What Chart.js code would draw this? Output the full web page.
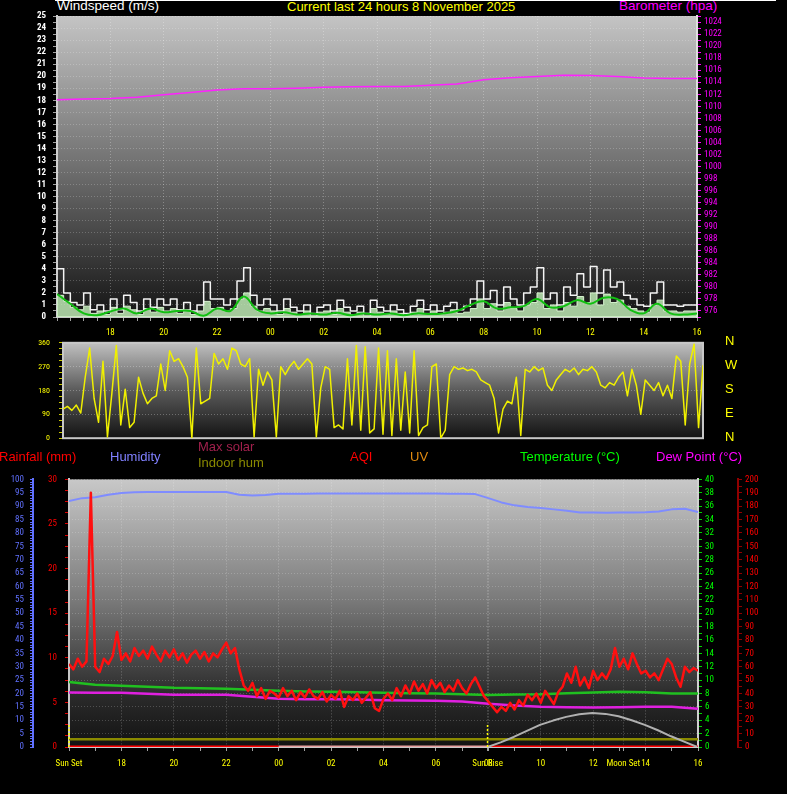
<!DOCTYPE html>
<html>
<head>
<meta charset="utf-8">
<script src="https://cdn.jsdelivr.net/npm/chart.js@4.4.0/dist/chart.umd.min.js"></script>
<style>
  body { margin:0; background:#000; width:787px; height:794px; overflow:hidden; position:relative;
         font-family:"Liberation Sans", Arial, sans-serif; }
  canvas { position:absolute; left:0; }
  .t { position:absolute; white-space:nowrap; line-height:1; }
</style>
</head>
<body>
<div style="position:absolute;left:55px;top:0;width:721px;height:1px;background:#fff"></div>
<div class="t" style="left:57px;top:-1px;font-size:13.5px;color:#fff">Windspeed (m/s)</div>
<div class="t" style="left:287px;top:0;font-size:13px;color:#ff0">Current last 24 hours 8 November 2025</div>
<div class="t" style="left:619px;top:-1px;font-size:13.5px;color:#f0f">Barometer (hpa)</div>

<canvas id="windChart" width="787" height="340" style="top:0"></canvas>
<canvas id="dirChart" width="787" height="123" style="top:329px"></canvas>

<div class="t" style="left:-1px;top:450px;font-size:13px;color:#f00">Rainfall (mm)</div>
<div class="t" style="left:110px;top:450px;font-size:13px;color:#8080ff">Humidity</div>
<div class="t" style="left:198px;top:440px;font-size:13px;color:#a0204c">Max solar</div>
<div class="t" style="left:198px;top:456px;font-size:13px;color:#8a8a00">Indoor hum</div>
<div class="t" style="left:350px;top:450px;font-size:13px;color:#f00">AQI</div>
<div class="t" style="left:410px;top:450px;font-size:13px;color:#e08a10">UV</div>
<div class="t" style="left:520px;top:450px;font-size:13px;color:#0f0">Temperature (°C)</div>
<div class="t" style="left:656px;top:450px;font-size:13px;color:#f0f">Dew Point (°C)</div>

<canvas id="weatherChart" width="787" height="328" style="top:466px"></canvas>

<script>
/* time axis: hours since 16:00 yesterday, 0..24 */

// top panel: wind (m/s), 15 min samples
const gustValues = [
  4.0, 2.0, 1.2, 1.0, 2.0, 0.6, 1.0, 0.5, 1.5, 0.6, 1.8, 1.2, 0.5, 1.5, 0.8, 1.5,
  1.0, 1.5, 0.6, 1.2, 0.5, 1.0, 2.9, 1.5, 1.5, 1.0, 1.5, 3.0, 4.1, 1.8, 1.0, 1.5,
  1.0, 0.5, 1.5, 0.8, 0.5, 1.0, 0.3, 0.8, 1.0, 0.5, 1.4, 0.8, 0.5, 0.9, 0.3, 1.4,
  0.8, 0.5, 1.0, 0.6, 0.3, 0.9, 1.4, 0.6, 1.0, 0.5, 0.9, 1.2, 0.6, 0.9, 1.5, 3.0,
  1.5, 2.2, 1.0, 2.5, 1.5, 1.0, 2.0, 2.5, 4.1, 1.5, 2.0, 1.0, 2.5, 1.8, 3.6, 2.5,
  4.2, 2.0, 3.9, 2.5, 2.9, 1.8, 1.5, 1.0, 0.9, 2.0, 2.9, 1.0, 1.0, 0.9, 1.0, 1.0, 1.0
];
const windValues = [
  1.8, 1.3, 0.8, 0.6, 0.9, 0.3, 0.5, 0.2, 0.8, 0.3, 0.9, 0.6, 0.2, 0.7, 0.4, 0.8,
  0.5, 0.7, 0.3, 0.6, 0.2, 0.5, 1.3, 0.7, 0.8, 0.5, 0.7, 1.5, 2.0, 0.9, 0.5, 0.7,
  0.5, 0.2, 0.7, 0.4, 0.2, 0.5, 0.1, 0.4, 0.5, 0.2, 0.7, 0.4, 0.2, 0.4, 0.1, 0.7,
  0.4, 0.2, 0.5, 0.3, 0.1, 0.4, 0.7, 0.3, 0.5, 0.2, 0.4, 0.6, 0.3, 0.4, 0.7, 1.5,
  0.7, 1.1, 0.5, 1.2, 0.7, 0.5, 1.0, 1.2, 2.0, 0.7, 1.0, 0.5, 1.2, 0.9, 1.7, 1.2,
  2.0, 1.0, 1.9, 1.2, 1.4, 0.9, 0.7, 0.5, 0.4, 1.0, 1.4, 0.5, 0.5, 0.4, 0.5, 0.5, 0.5
];
// 30 min samples
const avgWindValues = [
  1.9, 1.1, 0.3, 0.15, 0.45, 0.7, 0.3, 0.7, 0.4, 0.5, 0.5, 0.1, 0.7, 0.5, 1.7, 0.6,
  0.3, 0.4, 0.2, 0.3, 0.2, 0.35, 0.15, 0.3, 0.2, 0.3, 0.15, 0.3, 0.25, 0.3, 0.5, 1.0,
  1.3, 0.7, 0.8, 0.9, 1.5, 0.8, 0.9, 1.4, 1.1, 1.6, 1.5, 0.6, 0.3, 1.1, 0.3, 0.2, 0.3
];
// hourly, hPa
const pressureValues = [
  1011.1, 1011.2, 1011.3, 1011.5, 1011.9, 1012.3, 1012.7, 1012.9, 1012.9, 1013.0,
  1013.15, 1013.25, 1013.3, 1013.3, 1013.5, 1013.7, 1014.4, 1014.75, 1014.95, 1015.15,
  1015.1, 1014.95, 1014.7, 1014.6, 1014.6
];

// middle panel: wind direction (deg), 10 min samples
const directionValues = [
  110, 120, 105, 125, 95, 230, 340, 150, 60, 290, 5, 170, 350, 50, 185, 40, 60,
  230, 170, 130, 150, 160, 280, 180, 330, 290, 300, 270, 230, 0, 340,
  130, 140, 150, 320, 280, 300, 260, 340, 330, 280, 270, 300, 5, 260,
  200, 250, 220, 5, 270, 240, 270, 290, 260, 280, 300, 280, 5, 190,
  270, 260, 40, 50, 35, 300, 50, 350, 30, 345, 20, 35, 340, 15,
  330, 10, 300, 30, 250, 20, 330, 10, 40, 50, 270,
  280, 0, 30, 240, 270, 260, 265, 255, 260, 250, 220, 210, 200, 150,
  20, 110, 140, 130, 230, 10, 260, 250, 270, 255, 265, 200, 180, 220,
  240, 260, 250, 265, 240, 260, 255, 270, 250, 200, 190, 210, 200, 230,
  250, 160, 260, 200, 90, 220, 200, 180, 210, 160, 200, 150, 310, 290,
  50, 280, 355, 40, 275
];
const compassLabels = ['N', 'E', 'S', 'W', 'N'];

// bottom panel, 10 min samples
const aqiValues = [
  62, 58, 66, 60, 64, 190,
  60, 56, 66, 62, 68, 86, 65, 70, 64, 74, 68, 72,
  66, 75, 69, 64, 72, 67, 73, 65, 70, 63, 69, 72, 66, 71, 64, 70, 67, 73,
  78, 70, 74, 58, 46, 42, 48, 38, 44, 36, 42, 40,
  37, 44, 38, 42, 35, 41, 37, 43, 38, 36, 41, 34, 39, 36, 42,
  30, 38, 35, 40, 33, 37, 41, 29, 27, 36, 40, 35, 44, 38,
  46, 40, 49, 42, 47, 40, 50, 44, 48, 41, 46, 42, 50, 44, 40, 47, 52, 45,
  38, 34, 30, 26, 30, 27, 33, 28, 35, 31, 39, 35, 40, 33, 42, 37, 32, 41,
  45, 55, 48, 60, 46, 52, 44, 57, 50, 55, 51, 58, 74, 60, 66, 58, 70, 62,
  55, 57, 52, 55, 50, 58, 66, 62, 52, 45, 60, 56, 59, 57
];
// 30 min samples, %
const humidityValues = [
  91.9, 93.0, 93.3, 94.3, 94.9, 95.2, 95.3, 95.3, 95.3, 95.3,
  95.3, 95.3, 95.3, 94.3, 94.0, 94.2, 94.6, 94.6, 94.6, 94.7,
  94.7, 94.7, 94.7, 94.7, 94.7, 94.7, 94.7, 94.7, 94.7, 94.6,
  94.6, 94.5, 93.0, 91.4, 90.3, 89.7, 89.3, 88.8, 88.3, 87.6,
  87.6, 87.5, 87.6, 87.6, 87.7, 88.0, 88.8, 89.0, 87.8
];
// hourly, deg C
const temperatureValues = [
  9.7, 9.3, 9.15, 9.0, 8.85, 8.8, 8.7, 8.55, 8.4, 8.3, 8.25, 8.2, 8.1,
  8.05, 8.0, 7.9, 7.76, 7.85, 7.9, 8.05, 8.16, 8.25, 8.2, 8.0, 8.0
];
const dewPointValues = [
  8.16, 8.1, 8.1, 7.95, 7.8, 7.8, 7.8, 7.5, 7.2, 7.15, 7.15, 7.1, 7.0,
  6.95, 6.9, 6.8, 6.45, 6.2, 6.0, 5.95, 5.9, 5.95, 6.0, 6.0, 5.7
];
// max solar curve from sunrise, 30 min samples (on the temperature scale)
const maxSolarValues = [0, 0.7, 1.5, 2.4, 3.3, 3.95, 4.5, 4.9, 5.1, 4.95, 4.6, 4.0, 3.3, 2.5, 1.6, 0.8, 0];
const indoorHumValues = [2.9, 2.9];
const rainValues = [0, 0];

const sunSet = 0;
const sunRise = 15.97;
const moonSet = 21.15;
const sunMarkerHeight = 3.6;

/* helpers */
const series = (vals, step, start = 0) => vals.map((v, i) => ({ x: start + i * step, y: v }));
const hh = v => String((16 + Math.round(v)) % 24).padStart(2, '0');
const fixW = w => s => { s.width = w; };
const fixH = h => s => { s.height = h; };
const tickFont = { family: '"Roboto Condensed", "DejaVu Sans Condensed", "Liberation Sans", sans-serif', size: 9 };
const gridCol = 'rgba(255,255,255,0.28)';

/* gradient behind the plot area + optional frame */
const panelBg = {
  id: 'panelBg',
  beforeDraw(chart, args, opts) {
    const { ctx, chartArea: a } = chart;
    const g = ctx.createLinearGradient(0, a.top, 0, a.bottom);
    opts.stops.forEach(([p, c]) => g.addColorStop(p, c));
    ctx.save();
    ctx.fillStyle = g;
    ctx.fillRect(a.left, a.top, a.width, a.height);
    ctx.restore();
  },
  beforeDatasetsDraw(chart, args, opts) {
    if (!opts.frame) return;
    const { ctx, chartArea: a } = chart;
    ctx.save();
    ctx.strokeStyle = opts.frame;
    ctx.lineWidth = 2;
    ctx.strokeRect(a.left, a.top, a.width, a.height);
    ctx.restore();
  }
};

const baseOpts = {
  responsive: false,
  animation: false,
  events: [],
  elements: { point: { radius: 0 }, line: { borderJoinStyle: 'round' } },
};

/* ---- windspeed + barometer ---- */
new Chart(document.getElementById('windChart'), {
  type: 'line',
  data: {
    datasets: [
      { data: series(windValues, 0.25), yAxisID: 'ws', borderColor: '#d8f5d0', backgroundColor: 'rgba(200,245,190,0.8)', fill: 'origin', borderWidth: 1, stepped: true, order: 4 },
      { data: series(gustValues, 0.25), yAxisID: 'ws', borderColor: '#f4f4f4', borderWidth: 1.5, stepped: true, order: 3 },
      { data: series(avgWindValues, 0.5), yAxisID: 'ws', borderColor: '#12c012', borderWidth: 2, tension: 0.4, order: 2 },
      { data: series(pressureValues, 1), yAxisID: 'baro', borderColor: '#ff20ff', borderWidth: 1.5, order: 1 }
    ]
  },
  options: {
    ...baseOpts,
    layout: { padding: { top: 16 } },
    plugins: {
      legend: { display: false }, tooltip: { enabled: false },
      panelBg: { stops: [[0, '#c4c4c4'], [0.5, '#707070'], [1, '#141414']] }
    },
    scales: {
      x: {
        type: 'linear', min: 0, max: 24, afterFit: fixH(23),
        ticks: { stepSize: 0.5, autoSkip: false, maxRotation: 0, color: '#ff0', font: tickFont, padding: 6,
                 callback: v => (v % 2 === 0 && v > 0) ? hh(v) : '' },
        grid: { color: c => (c.tick && c.tick.value % 2 === 0) ? gridCol : 'transparent', tickColor: '#a0a0a0', tickLength: 4 },
        border: { color: '#c8c8c8', width: 2, dash: [1, 2] }
      },
      ws: {
        position: 'left', min: 0, max: 25, afterFit: fixW(57),
        ticks: { stepSize: 0.5, autoSkip: false, color: '#fff', font: { ...tickFont, size: 9, weight: 'bold' }, padding: 7,
                 callback: v => Number.isInteger(v) ? v : '' },
        grid: { color: c => (c.tick && Number.isInteger(c.tick.value)) ? 'rgba(255,255,255,0.22)' : 'transparent', tickColor: '#a0a0a0', tickLength: 4 },
        border: { color: '#d0d0d0', width: 2, dash: [1, 2] }
      },
      baro: {
        position: 'right', min: 975, max: 1025, afterFit: fixW(90),
        ticks: { stepSize: 1, autoSkip: false, color: '#f0f', font: tickFont, padding: 3,
                 callback: v => v % 2 === 0 ? v : '' },
        grid: { drawOnChartArea: false, tickColor: '#f0f', tickLength: 4 },
        border: { color: '#e0e0e0', width: 2 }
      }
    }
  },
  plugins: [panelBg]
});

/* ---- wind direction ---- */
new Chart(document.getElementById('dirChart'), {
  type: 'line',
  data: {
    datasets: [
      { data: series(directionValues, 1 / 6), yAxisID: 'dir', borderColor: '#f0f000', borderWidth: 1.5 }
    ]
  },
  options: {
    ...baseOpts,
    layout: { padding: 0 },
    plugins: {
      legend: { display: false }, tooltip: { enabled: false },
      panelBg: { stops: [[0, '#c0c0c0'], [0.5, '#5a5a5a'], [1, '#141414']], frame: '#c8c8c8' }
    },
    scales: {
      x: { type: 'linear', min: 0, max: 24, display: false },
      dir: {
        position: 'left', min: 0, max: 360, afterFit: fixW(63),
        ticks: { stepSize: 22.5, autoSkip: false, color: '#ff0', font: { ...tickFont, size: 8 }, padding: 9,
                 callback: v => v % 90 === 0 ? v : '' },
        grid: { color: c => (c.tick && c.tick.value % 90 === 0 && c.tick.value % 360 !== 0) ? gridCol : 'transparent', tickColor: '#c8c800', tickLength: 4 },
        border: { color: '#c8c8c8', width: 2, dash: [1, 2] }
      },
      compass: {
        position: 'right', min: 0, max: 360, afterFit: fixW(84),
        ticks: { stepSize: 90, autoSkip: false, color: '#ff0', font: { family: '"Liberation Sans", Arial, sans-serif', size: 13 }, padding: 2, labelOffset: -1,
                 callback: v => compassLabels[v / 90] },
        grid: { drawOnChartArea: false, drawTicks: true, tickLength: 20, tickColor: 'transparent' },
        border: { color: '#c8c8c8', width: 2 }
      }
    }
  },
  plugins: [panelBg]
});

/* ---- rain / humidity / AQI / temperature ---- */
const bottomTicks = Array.from({ length: 25 }, (_, i) => i).concat([sunRise, moonSet]).sort((a, b) => a - b);
const specialLabels = { [sunSet]: 'Sun Set', [sunRise]: 'Sun Rise', [moonSet]: 'Moon Set' };
const bottomLabel = v => specialLabels[v] !== undefined ? specialLabels[v] : (v % 2 === 0 ? hh(v) : '');

new Chart(document.getElementById('weatherChart'), {
  type: 'line',
  data: {
    datasets: [
      { data: series(aqiValues, 1 / 6), yAxisID: 'aqi', borderColor: '#ff1010', borderWidth: 2.5, order: 1 },
      { data: series(humidityValues, 0.5), yAxisID: 'hum', borderColor: '#7f8cff', borderWidth: 2, order: 2 },
      { data: series(dewPointValues, 1), yAxisID: 'temp', borderColor: '#e020e0', borderWidth: 2.5, order: 3 },
      { data: series(temperatureValues, 1), yAxisID: 'temp', borderColor: '#20c020', borderWidth: 2.5, order: 4 },
      { data: series(maxSolarValues, 0.5, sunRise), yAxisID: 'temp', borderColor: '#b0b0b0', borderWidth: 2, order: 5 },
      { data: series(indoorHumValues, 24), yAxisID: 'hum', borderColor: '#8a8a00', borderWidth: 2.5, order: 6 },
      { data: series(rainValues, 8), yAxisID: 'rain', borderColor: '#ff0000', borderWidth: 3, order: 7 },
      { data: series(rainValues, sunRise - 8, 8), yAxisID: 'rain', borderColor: '#e8a0a0', borderWidth: 3, order: 8 },
      { data: series(rainValues, 24 - sunRise, sunRise), yAxisID: 'rain', borderColor: '#ff0000', borderWidth: 3, order: 9 },
      { data: [{ x: sunSet, y: 0 }, { x: sunSet, y: sunMarkerHeight }], yAxisID: 'temp', borderColor: '#ffff00', borderWidth: 1.5, borderDash: [2, 2], clip: 4, order: 0 },
      { data: [{ x: sunRise, y: 0 }, { x: sunRise, y: sunMarkerHeight }], yAxisID: 'temp', borderColor: '#ffff00', borderWidth: 1.5, borderDash: [2, 2], order: 0 }
    ]
  },
  options: {
    ...baseOpts,
    layout: { padding: 0 },
    plugins: {
      legend: { display: false }, tooltip: { enabled: false },
      panelBg: { stops: [[0, '#c8c8c8'], [0.45, '#7a7a7a'], [0.8, '#2c2c2c'], [1, '#121212']] }
    },
    scales: {
      x: {
        type: 'linear', min: 0, max: 24, afterFit: fixH(47),
        afterBuildTicks: ax => { ax.ticks = bottomTicks.map(v => ({ value: v })); },
        ticks: { autoSkip: false, maxRotation: 0, color: '#ff0', font: tickFont, padding: 7,
                 callback: v => bottomLabel(v) },
        grid: { color: c => (c.tick && (c.tick.value % 2 === 0 || c.tick.value === sunRise || c.tick.value === moonSet)) ? gridCol : 'transparent',
                tickColor: '#a0a0a0', tickLength: 4 },
        border: { color: '#c8c8c8', width: 2, dash: [1, 2] }
      },
      rain: {
        position: 'left', min: 0, max: 30, afterFit: fixW(36),
        ticks: { stepSize: 1.25, autoSkip: false, color: '#f00', font: tickFont, padding: 8,
                 callback: v => v % 5 === 0 ? v : '' },
        grid: { drawOnChartArea: false, tickColor: '#e00000', tickLength: 4 },
        border: { color: '#c8c8c8', width: 2 }
      },
      hum: {
        position: 'left', min: 0, max: 100, afterFit: fixW(33),
        ticks: { stepSize: 1, autoSkip: false, color: '#6070ff', font: tickFont, padding: 6,
                 callback: v => v % 5 === 0 ? v : '' },
        grid: { drawOnChartArea: false, tickColor: '#6070ff', tickLength: 3 },
        border: { color: '#6070ff', width: 2 }
      },
      temp: {
        position: 'right', min: 0, max: 40, afterFit: fixW(40),
        ticks: { stepSize: 1, autoSkip: false, color: '#0f0', font: tickFont, padding: 3,
                 callback: v => v % 2 === 0 ? v : '' },
        grid: { color: c => (c.tick && c.tick.value % 2 === 0) ? 'rgba(255,255,255,0.2)' : 'transparent', tickColor: '#00d000', tickLength: 4 },
        border: { color: '#d0d0d0', width: 2, dash: [1, 2] }
      },
      aqi: {
        position: 'right', min: 0, max: 200, afterFit: fixW(49),
        ticks: { stepSize: 5, autoSkip: false, color: '#f00', font: tickFont, padding: 3,
                 callback: v => v % 10 === 0 ? v : '' },
        grid: { drawOnChartArea: false, tickColor: '#900000', tickLength: 4 },
        border: { color: '#900000', width: 2 }
      }
    }
  },
  plugins: [panelBg]
});
</script>
</body>
</html>
